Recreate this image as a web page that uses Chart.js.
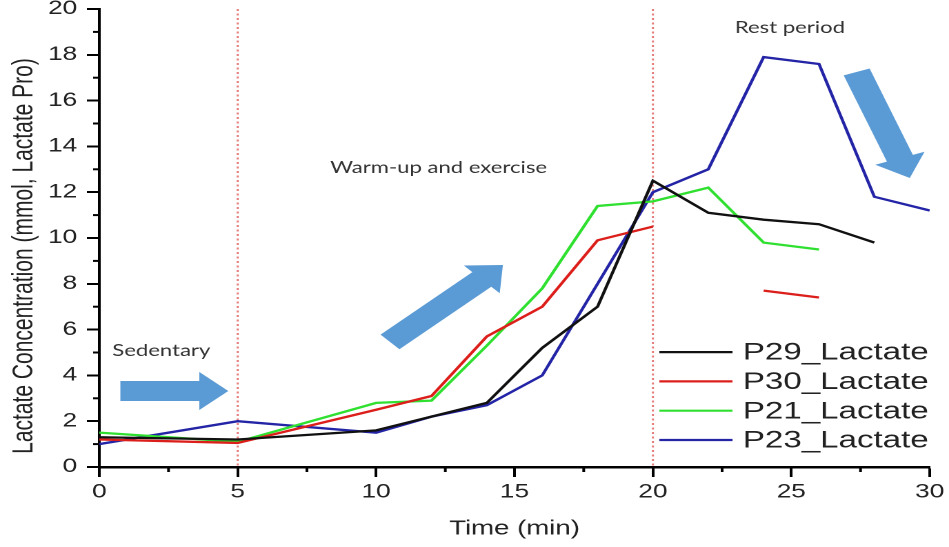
<!DOCTYPE html>
<html>
<head>
<meta charset="utf-8">
<title>Lactate concentration</title>
<script src="https://cdn.jsdelivr.net/npm/chart.js@4.4.1/dist/chart.umd.min.js"></script>
<style>
    html, body { margin: 0; padding: 0; background: #fff; overflow: hidden; }
    /* the original figure is stretched sideways, so is this one */
    #wrap { width: 688px; height: 547px; transform: scaleX(1.3794); transform-origin: 0 0; }
</style>
</head>
<body>
<div id="wrap"><canvas id="lactateChart"></canvas></div>
<script>
// Data
const times = [0, 5, 10, 12, 14, 16, 18, 20, 22, 24, 26, 28, 30];
const p29 = [1.3, 1.2, 1.6, 2.2, 2.8, 5.2, 7.0, 12.5, 11.1, 10.8, 10.6, 9.8, null];
const p30 = [1.2, 1.05, 2.5, 3.1, 5.7, 7.0, 9.9, 10.5, null, 7.7, 7.4, null, null];
const p21 = [1.5, 1.1, 2.8, 2.9, 5.3, 7.8, 11.4, 11.6, 12.2, 9.8, 9.5, null, null];
const p23 = [1.0, 2.0, 1.5, 2.2, 2.7, 4.0, 8.0, 12.0, 13.0, 17.9, 17.6, 11.8, 11.2];

const seriesNames = ['P29_Lactate', 'P30_Lactate', 'P21_Lactate', 'P23_Lactate'];
const seriesValues = [p29, p30, p21, p23];
const seriesColors = ['#111111', '#dc1f1b', '#30e030', '#2424a6'];

// Phase boundaries (min) and notes
const phaseLines = [5, 20];
const phaseNotes = [
    { text: 'Sedentary', x: 0.47, y: 5.07 },
    { text: 'Warm-up and exercise', x: 8.34, y: 13.06 },
    { text: 'Rest period', x: 22.96, y: 19.17 }
];
const phaseArrows = [
    { from: [0.76, 3.32], to: [4.66, 3.32] },
    { from: [10.5, 5.46], to: [14.58, 8.82] },
    { from: [27.36, 17.25], to: [29.28, 12.62] }
];

const axisFont = '"Liberation Sans", Arial, sans-serif';

function drawArrow(ctx, x1, y1, x2, y2) {
    const len = Math.hypot(x2 - x1, y2 - y1);
    const ux = (x2 - x1) / len, uy = (y2 - y1) / len;
    const px = -uy, py = ux;
    const shaft = 10, head = 19, headLen = 21;
    const bx = x2 - ux * headLen, by = y2 - uy * headLen;
    ctx.beginPath();
    ctx.moveTo(x1 + px * shaft, y1 + py * shaft);
    ctx.lineTo(bx + px * shaft, by + py * shaft);
    ctx.lineTo(bx + px * head, by + py * head);
    ctx.lineTo(x2, y2);
    ctx.lineTo(bx - px * head, by - py * head);
    ctx.lineTo(bx - px * shaft, by - py * shaft);
    ctx.lineTo(x1 - px * shaft, y1 - py * shaft);
    ctx.closePath();
    ctx.fill();
}

// Extra drawing: phase lines, arrows, notes, minor ticks, legend
const decorPlugin = {
    id: 'decor',
    beforeDatasetsDraw(chart) {
        const { ctx, chartArea, scales: { x, y } } = chart;
        ctx.save();
        ctx.strokeStyle = '#e77b7b';
        ctx.lineWidth = 1.5;
        ctx.setLineDash([2, 2.5]);
        phaseLines.forEach(t => {
            const px = x.getPixelForValue(t);
            ctx.beginPath();
            ctx.moveTo(px, y.getPixelForValue(20));
            ctx.lineTo(px, chartArea.bottom);
            ctx.stroke();
        });
        ctx.restore();
    },
    afterDraw(chart) {
        const { ctx, chartArea, scales: { x, y } } = chart;
        ctx.save();

        // minor ticks
        ctx.strokeStyle = '#000';
        ctx.lineWidth = 2;
        for (let v = 1; v < 20; v += 2) {
            const py = y.getPixelForValue(v);
            ctx.beginPath();
            ctx.moveTo(chartArea.left - 4.5, py);
            ctx.lineTo(chartArea.left, py);
            ctx.stroke();
        }
        for (let t = 2.5; t < 30; t += 5) {
            const px = x.getPixelForValue(t);
            ctx.beginPath();
            ctx.moveTo(px, chartArea.bottom);
            ctx.lineTo(px, chartArea.bottom + 5);
            ctx.stroke();
        }

        // arrows
        ctx.fillStyle = '#5b9bd5';
        phaseArrows.forEach(a => {
            drawArrow(ctx,
                x.getPixelForValue(a.from[0]), y.getPixelForValue(a.from[1]),
                x.getPixelForValue(a.to[0]), y.getPixelForValue(a.to[1]));
        });

        // phase notes
        ctx.fillStyle = '#333';
        ctx.font = '16px Lato, "Open Sans", sans-serif';
        ctx.textBaseline = 'middle';
        ctx.textAlign = 'left';
        phaseNotes.forEach(n => {
            ctx.fillText(n.text, x.getPixelForValue(n.x), y.getPixelForValue(n.y));
        });

        // y axis title
        ctx.fillStyle = '#222';
        ctx.font = '21px ' + axisFont;
        ctx.textAlign = 'center';
        ctx.translate(17.5, (chartArea.top + chartArea.bottom) / 2 + 18);
        ctx.rotate(-Math.PI / 2);
        ctx.fillText('Lactate Concentration (mmol, Lactate Pro)', 0, 0);
        ctx.restore();

        // legend
        ctx.save();
        ctx.font = '24px ' + axisFont;
        ctx.textBaseline = 'middle';
        ctx.textAlign = 'left';
        chart.data.datasets.forEach((ds, i) => {
            const rowY = chartArea.bottom - 27 - 29.3 * (chart.data.datasets.length - 1 - i);
            ctx.strokeStyle = ds.borderColor;
            ctx.lineWidth = 2.2;
            ctx.beginPath();
            ctx.moveTo(chartArea.right - 196, rowY);
            ctx.lineTo(chartArea.right - 143, rowY);
            ctx.stroke();
            ctx.fillStyle = '#222';
            ctx.fillText(ds.label, chartArea.right - 135.5, rowY + 1);
        });
        ctx.restore();
    }
};

const lactateChart = new Chart(document.getElementById('lactateChart'), {
    type: 'line',
    data: {
        datasets: seriesNames.map((name, i) => ({
            label: name,
            data: times.map((t, j) => ({ x: t, y: seriesValues[i][j] })),
            borderColor: seriesColors[i],
            backgroundColor: seriesColors[i],
            borderWidth: 2.3,
            pointRadius: 0,
            tension: 0,
            spanGaps: false
        }))
    },
    options: {
        responsive: true,
        maintainAspectRatio: false,
        devicePixelRatio: 2,
        animation: false,
        layout: { padding: { top: 9, right: 14, left: 0, bottom: 0 } },
        scales: {
            x: {
                type: 'linear',
                min: 0,
                max: 30,
                ticks: {
                    stepSize: 5,
                    padding: 4,
                    color: '#222',
                    font: { family: axisFont, size: 19 }
                },
                grid: { drawOnChartArea: false, tickLength: 10, tickColor: '#000', tickWidth: 2 },
                border: { color: '#000', width: 2.5 },
                title: {
                    display: true,
                    text: 'Time (min)',
                    color: '#222',
                    font: { family: axisFont, size: 20 },
                    padding: { top: 0, bottom: 6 }
                },
                afterFit(scale) {
                    scale.height = 80;
                    scale.paddingLeft = 0;
                    scale.paddingRight = 0;
                }
            },
            y: {
                min: 0,
                max: 20,
                ticks: {
                    stepSize: 2,
                    padding: 7,
                    color: '#222',
                    font: { family: axisFont, size: 19 }
                },
                grid: { drawOnChartArea: false, tickLength: 9, tickColor: '#000', tickWidth: 2 },
                border: { color: '#000', width: 2 },
                afterFit(scale) {
                    scale.width = 72;
                    scale.paddingTop = 0;
                    scale.paddingBottom = 0;
                }
            }
        },
        plugins: {
            legend: { display: false },
            tooltip: { enabled: false }
        }
    },
    plugins: [decorPlugin]
});
</script>
</body>
</html>
